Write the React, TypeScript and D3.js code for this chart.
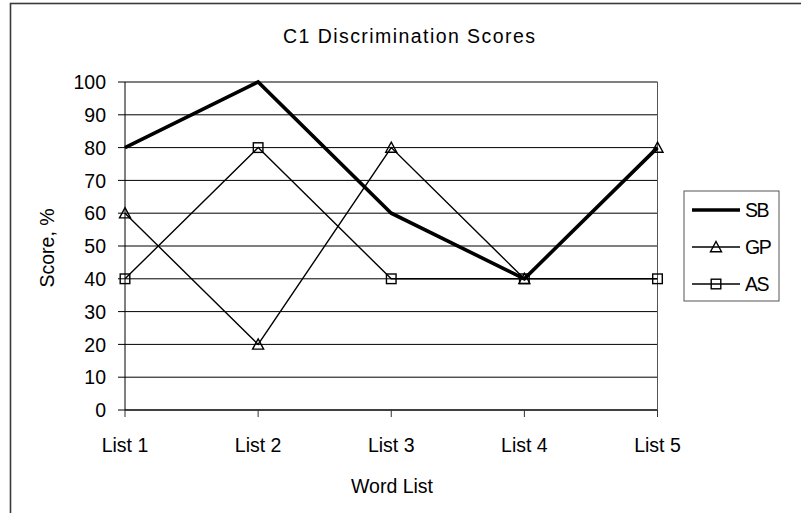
import React from "react";
import * as d3 from "d3";

const categories = ["List 1", "List 2", "List 3", "List 4", "List 5"];
const sbValues = [80, 100, 60, 40, 80];
const gpValues = [60, 20, 80, 40, 80];
const asValues = [40, 80, 40, 40, 40];
const yTicks = [0, 10, 20, 30, 40, 50, 60, 70, 80, 90, 100];

const FONT = "Arial, 'Liberation Sans', sans-serif";
const FS = 19.5;

type Marker = "none" | "triangle" | "square";
const series: { name: string; values: number[]; width: number; marker: Marker }[] = [
  { name: "SB", values: sbValues, width: 3.6, marker: "none" },
  { name: "GP", values: gpValues, width: 1.4, marker: "triangle" },
  { name: "AS", values: asValues, width: 1.4, marker: "square" },
];

function MarkerShape({ kind, x, y }: { kind: Marker; x: number; y: number }) {
  if (kind === "triangle") {
    const s = 5.5;
    return (
      <path
        d={`M${x},${y - s} L${x + s},${y + s * 0.85} L${x - s},${y + s * 0.85} Z`}
        fill="none"
        stroke="#000"
        strokeWidth={1.4}
      />
    );
  }
  if (kind === "square") {
    const s = 4.8;
    return (
      <rect x={x - s} y={y - s} width={s * 2} height={s * 2} fill="none" stroke="#000" strokeWidth={1.4} />
    );
  }
  return null;
}

export default function App() {
  const width = 801;
  const height = 513;
  const x = d3.scalePoint<string>().domain(categories).range([125, 657.5]).padding(0);
  const y = d3.scaleLinear().domain([0, 100]).range([410, 82]);
  const line = d3
    .line<number>()
    .x((_, i) => x(categories[i]) as number)
    .y((d) => y(d));

  const legendX = 684;
  const legendY = 191;
  const legendRows = [210, 247, 284];

  return (
    <svg
      width={width}
      height={height}
      style={{ position: "absolute", left: 0, top: 0, background: "#fff" }}
      fontFamily={FONT}
    >
      <rect x={0} y={0} width={width} height={height} fill="#fff" />
      {/* chart frame */}
      <rect x={10.5} y={3.5} width={820} height={540} fill="none" stroke="#3a3a3a" strokeWidth={1.6} />

      {/* title */}
      <text x={409} y={43} textAnchor="middle" fontSize={FS} textLength={252} lengthAdjust="spacing">
        C1 Discrimination Scores
      </text>

      {/* horizontal gridlines */}
      {yTicks.map((t) => (
        <g key={t}>
          <line x1={125} x2={657.5} y1={y(t)} y2={y(t)} stroke="#000" strokeWidth={t === 0 ? 1.6 : 1} />
          <line x1={118} x2={125} y1={y(t)} y2={y(t)} stroke="#000" strokeWidth={1} />
          <text x={106} y={y(t)} dy="0.37em" textAnchor="end" fontSize={FS}>
            {t}
          </text>
        </g>
      ))}

      {/* plot border right side */}
      <line x1={657.5} x2={657.5} y1={82} y2={410} stroke="#555" strokeWidth={1} />
      {/* y axis */}
      <line x1={125} x2={125} y1={82} y2={410} stroke="#000" strokeWidth={1} />

      {/* x ticks and labels */}
      {categories.map((c) => (
        <g key={c}>
          <line x1={x(c)} x2={x(c)} y1={410} y2={417} stroke="#333" strokeWidth={1} />
          <text x={x(c)} y={452} textAnchor="middle" fontSize={FS}>
            {c}
          </text>
        </g>
      ))}

      {/* axis titles */}
      <text x={392} y={493} textAnchor="middle" fontSize={FS}>
        Word List
      </text>
      <text transform="translate(54,248) rotate(-90)" textAnchor="middle" fontSize={FS}>
        Score, %
      </text>

      {/* series */}
      {series.map((s) => (
        <g key={s.name}>
          <path d={line(s.values) || ""} fill="none" stroke="#000" strokeWidth={s.width} strokeLinejoin="miter" />
          {s.values.map((v, i) => (
            <MarkerShape key={i} kind={s.marker} x={x(categories[i]) as number} y={y(v)} />
          ))}
        </g>
      ))}

      {/* legend */}
      <rect x={legendX} y={legendY} width={95} height={110} fill="#fff" stroke="#555" strokeWidth={1} />
      {series.map((s, i) => (
        <g key={s.name}>
          <line x1={692} x2={740} y1={legendRows[i]} y2={legendRows[i]} stroke="#000" strokeWidth={s.width} />
          <MarkerShape kind={s.marker} x={716} y={legendRows[i]} />
          <text x={745} y={legendRows[i]} dy="0.37em" fontSize={FS} letterSpacing={-1.5}>
            {s.name}
          </text>
        </g>
      ))}
    </svg>
  );
}
